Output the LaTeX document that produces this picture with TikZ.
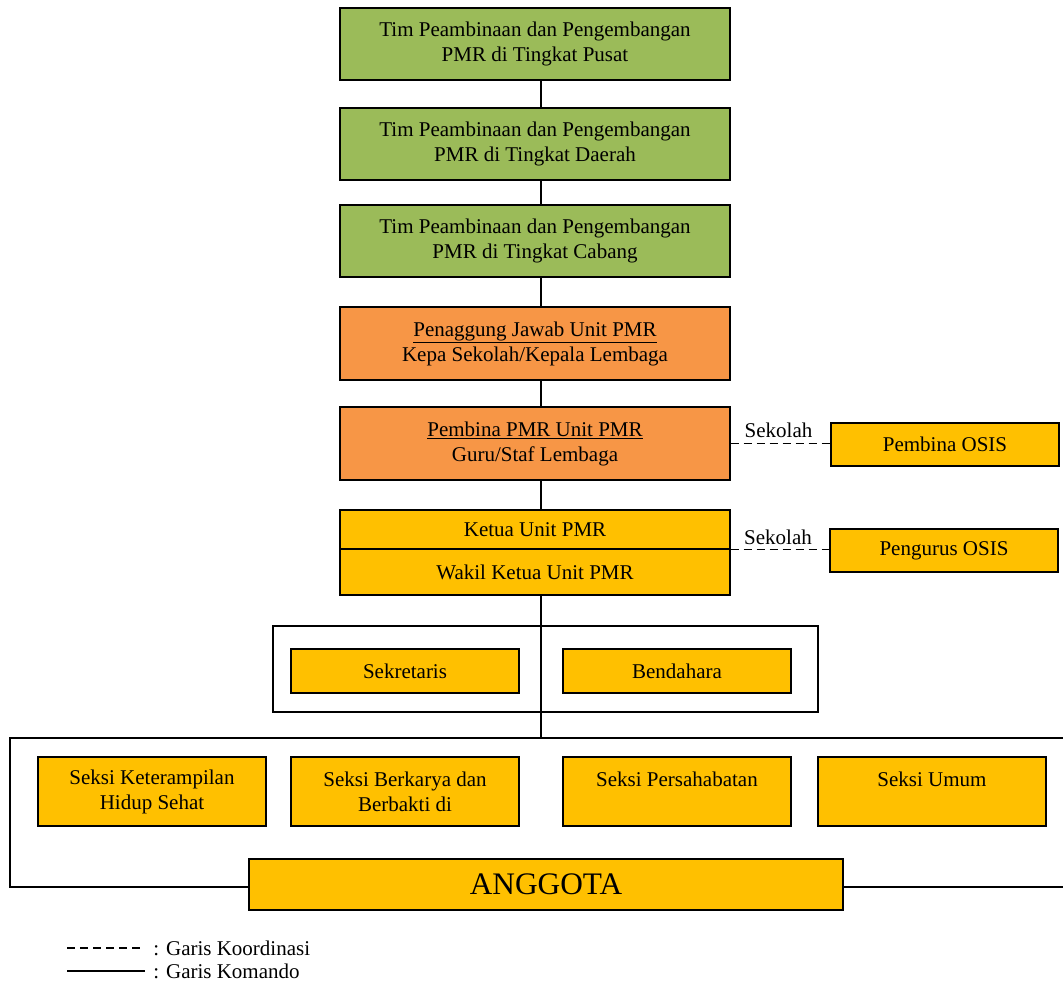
\documentclass[tikz,border=0pt]{standalone}
\usepackage{fontspec}
\setmainfont{Liberation Serif}
\definecolor{boxgreen}{HTML}{9BBB59}
\definecolor{boxorange}{HTML}{F79646}
\definecolor{boxyellow}{HTML}{FFC000}
\newcommand{\fsmain}{\fontsize{15.75}{18.75}\selectfont}
\newcommand{\fsbig}{\fontsize{23.5}{28}\selectfont}
\begin{document}
\begin{tikzpicture}[x=0.75pt,y=-0.75pt,
  box/.style={draw=black, line width=0.9pt, align=center, inner sep=0pt, font=\fsmain},
  mainbox/.style={box, minimum width=292.5pt},
  greenbox/.style={mainbox, fill=boxgreen, minimum height=54pt},
  orangebox/.style={mainbox, fill=boxorange, minimum height=54.75pt},
  yellowbox/.style={box, fill=boxyellow},
  sidebox/.style={yellowbox, minimum width=171pt, minimum height=32.25pt},
  smallbox/.style={yellowbox, minimum width=171pt, minimum height=33pt},
  seksibox/.style={yellowbox, minimum width=171pt, minimum height=51.75pt},
  cmd/.style={draw=black, line width=1pt},
  coord/.style={draw=black, line width=1.3pt, dash pattern=on 6pt off 3.75pt},
  frame/.style={draw=black, line width=1.4pt},
  lbl/.style={font=\fsmain}
]
\useasboundingbox (0,0) rectangle (1063,982);
\clip (0,0) rectangle (1063,982);

\coordinate (sp) at (541,0);

% main column
\node[greenbox] (b1) at (535,44) {Tim Peambinaan dan Pengembangan\\PMR di Tingkat Pusat};
\node[greenbox] (b2) at (535,144) {Tim Peambinaan dan Pengembangan\\PMR di Tingkat Daerah};
\node[greenbox] (b3) at (535,241) {Tim Peambinaan dan Pengembangan\\PMR di Tingkat Cabang};
\node[orangebox] (b4) at (535,343.5) {\underline{Penaggung Jawab Unit PMR}\\Kepa Sekolah/Kepala Lembaga};
\node[orangebox] (b5) at (535,443.5) {\underline{Pembina PMR Unit PMR}\\Guru/Staf Lembaga};
\node[yellowbox, minimum width=292.5pt, minimum height=29.25pt] (ketua) at (535,529.5) {\raisebox{-2.5pt}{Ketua Unit PMR}};
\node[yellowbox, minimum width=292.5pt, minimum height=34.5pt] (wakil) at (535,572) {Wakil Ketua Unit PMR};

% side boxes
\node[sidebox] (posis) at (945,444.5) {Pembina OSIS};
\node[sidebox] (pengurus) at (944,550.5) {Pengurus OSIS};

% command lines
\draw[cmd] (b1.south -| sp) -- (b2.north -| sp);
\draw[cmd] (b2.south -| sp) -- (b3.north -| sp);
\draw[cmd] (b3.south -| sp) -- (b4.north -| sp);
\draw[cmd] (b4.south -| sp) -- (b5.north -| sp);
\draw[cmd] (b5.south -| sp) -- (ketua.north -| sp);

% coordination lines
\draw[coord] (b5.east) -- node[lbl, above, pos=0.48] (sek1) {Sekolah} (b5.east -| posis.west);
\draw[coord] (ketua.south east) -- node[lbl, above, pos=0.48] (sek2) {Sekolah} (ketua.south east -| pengurus.west);

% secretariat frame
\node[frame, minimum width=408.75pt, minimum height=64.5pt, inner sep=0pt] (frame1) at (545.5,669) {};
\coordinate (bigtop) at (541,738);
\draw[cmd] (wakil.south -| sp) -- (bigtop);
\node[smallbox] (sekr) at (405,671) {Sekretaris};
\node[smallbox] (bend) at (677,671) {Bendahara};

% big frame
\coordinate (bigtl) at (10,738);
\coordinate (bigbl) at (10,887);
\draw[frame] (1080,738) -- (bigtl) -- (bigbl) -- (1080,887);

% seksi
\node[seksibox] (s1) at (152,791.5) {Seksi Keterampilan\\Hidup Sehat};
\node[seksibox] (s2) at (405,791.5) {Seksi Berkarya dan\\Berbakti di};
\node[seksibox] (s3) at (677,791.5) {Seksi Persahabatan\\\mbox{}};
\node[seksibox] (s4) at (932,791.5) {Seksi Umum\\\mbox{}};

\node[yellowbox, font=\fsbig, minimum width=445.5pt, minimum height=38.25pt] (anggota) at (546,884.5) {ANGGOTA};

% legend
\coordinate (l1a) at (67,948); \coordinate (l1b) at (145,948);
\coordinate (l2a) at (67,971); \coordinate (l2b) at (145,971);
\draw[coord] (l1a) -- (l1b);
\draw[cmd] (l2a) -- (l2b);
\node[lbl, anchor=west, inner sep=0pt] (leg1) at (153,948) {: Garis Koordinasi};
\node[lbl, anchor=west, inner sep=0pt] (leg2) at (153,971) {: Garis Komando};
\end{tikzpicture}
\end{document}
